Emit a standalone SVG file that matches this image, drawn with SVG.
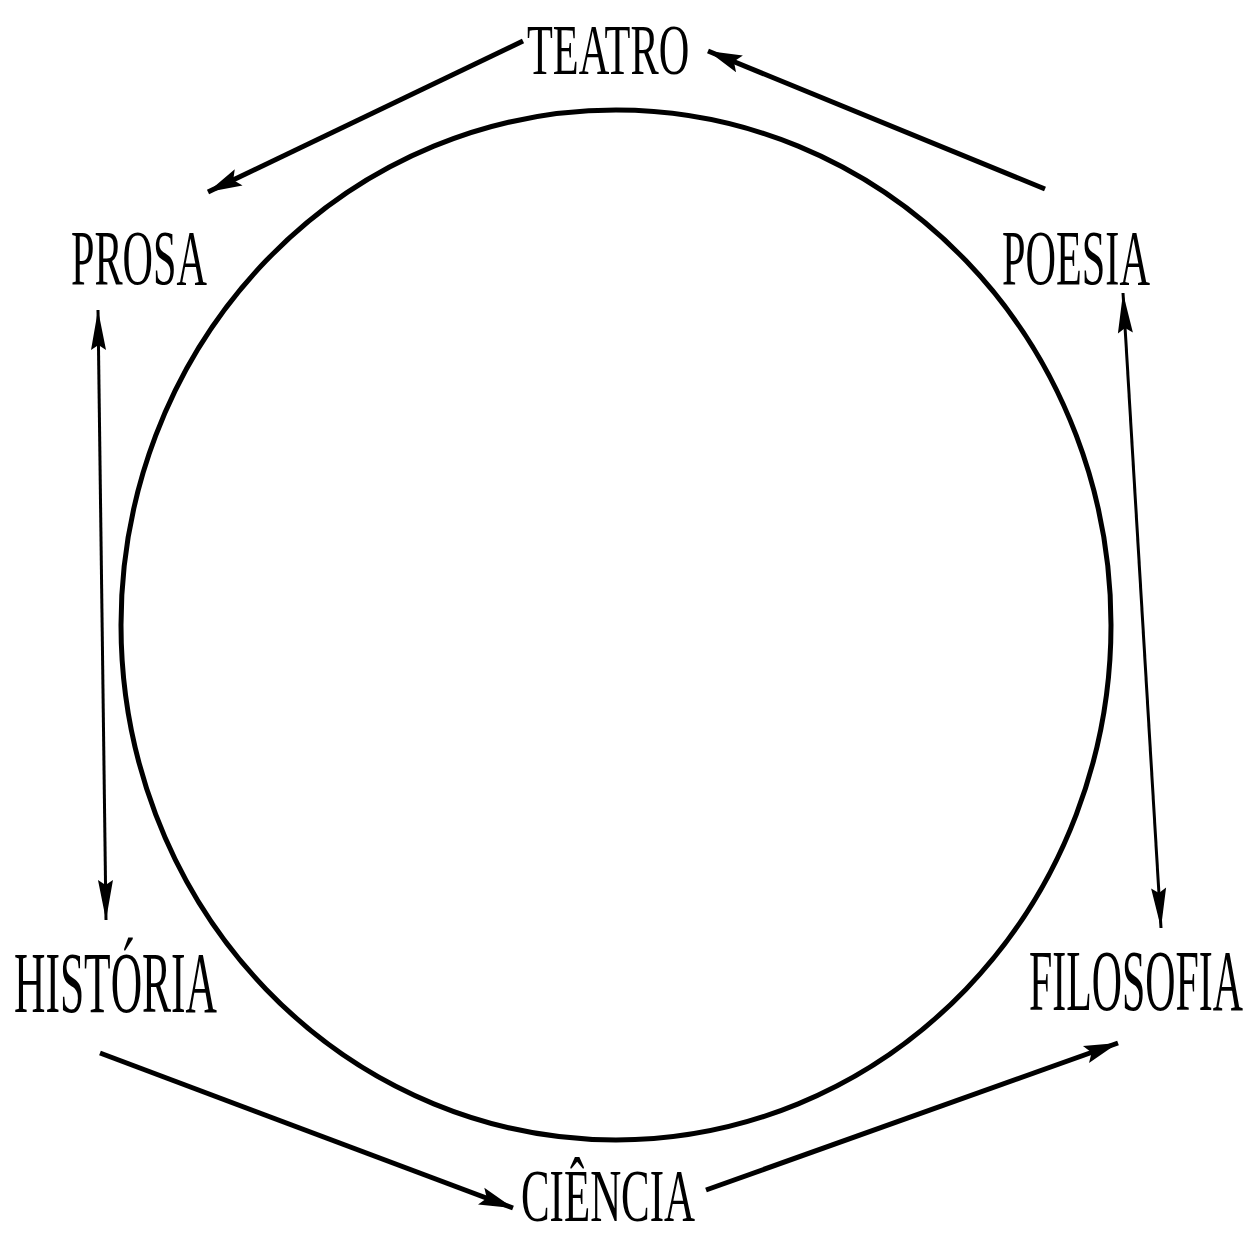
<svg xmlns="http://www.w3.org/2000/svg" width="1252" height="1237" viewBox="0 0 1252 1237">
<defs>
<style>
.lbl{font-family:"Liberation Serif","DejaVu Serif",serif;fill:#000;}
.con{stroke:#000;stroke-width:5;fill:none;}
.vcon{stroke:#000;stroke-width:3;fill:none;}
</style>
<marker id="ah" markerUnits="userSpaceOnUse" viewBox="-38 -10 40 20" refX="0" refY="0" markerWidth="40" markerHeight="20" orient="auto">
<path d="M0,0 L-34,-9 L-28,0 L-34,9 Z" fill="#000"/>
</marker>
<marker id="ahs" markerUnits="userSpaceOnUse" viewBox="-42 -9 44 18" refX="0" refY="0" markerWidth="44" markerHeight="18" orient="auto-start-reverse">
<path d="M0,0 L-40,-7.5 L-35,0 L-40,7.5 Z" fill="#000"/>
</marker>
</defs>
<rect width="1252" height="1237" fill="#fff"/>
<ellipse id="circle" cx="616" cy="625" rx="495" ry="515" fill="none" stroke="#000" stroke-width="5"/>
<g id="connectors">
<line class="con" x1="523" y1="41" x2="208" y2="192" marker-end="url(#ah)"/>
<line class="con" x1="1045" y1="189" x2="708" y2="51" marker-end="url(#ah)"/>
<line class="vcon" x1="98" y1="310" x2="106" y2="920" marker-start="url(#ahs)" marker-end="url(#ahs)"/>
<line class="vcon" x1="1123" y1="293" x2="1161" y2="928" marker-start="url(#ahs)" marker-end="url(#ahs)"/>
<line class="con" x1="100" y1="1053" x2="513" y2="1208" marker-end="url(#ah)"/>
<line class="con" x1="706" y1="1190" x2="1118" y2="1043" marker-end="url(#ah)"/>
</g>
<g id="teatro"><text class="lbl" transform="translate(527,74) scale(0.588,1)" font-size="72">TEATRO</text></g>
<g id="prosa"><text class="lbl" transform="translate(71,284) scale(0.541,1)" font-size="78">PROSA</text></g>
<g id="poesia"><text class="lbl" transform="translate(1002,284) scale(0.542,1)" font-size="78">POESIA</text></g>
<g id="historia"><text class="lbl" transform="translate(14,1012) scale(0.506,1)" font-size="86">HISTÓRIA</text></g>
<g id="filosofia"><text class="lbl" transform="translate(1029,1010) scale(0.487,1)" font-size="86">FILOSOFIA</text></g>
<g id="ciencia"><text class="lbl" transform="translate(521,1221) scale(0.58,1)" font-size="74">CIÊNCIA</text></g>
</svg>
